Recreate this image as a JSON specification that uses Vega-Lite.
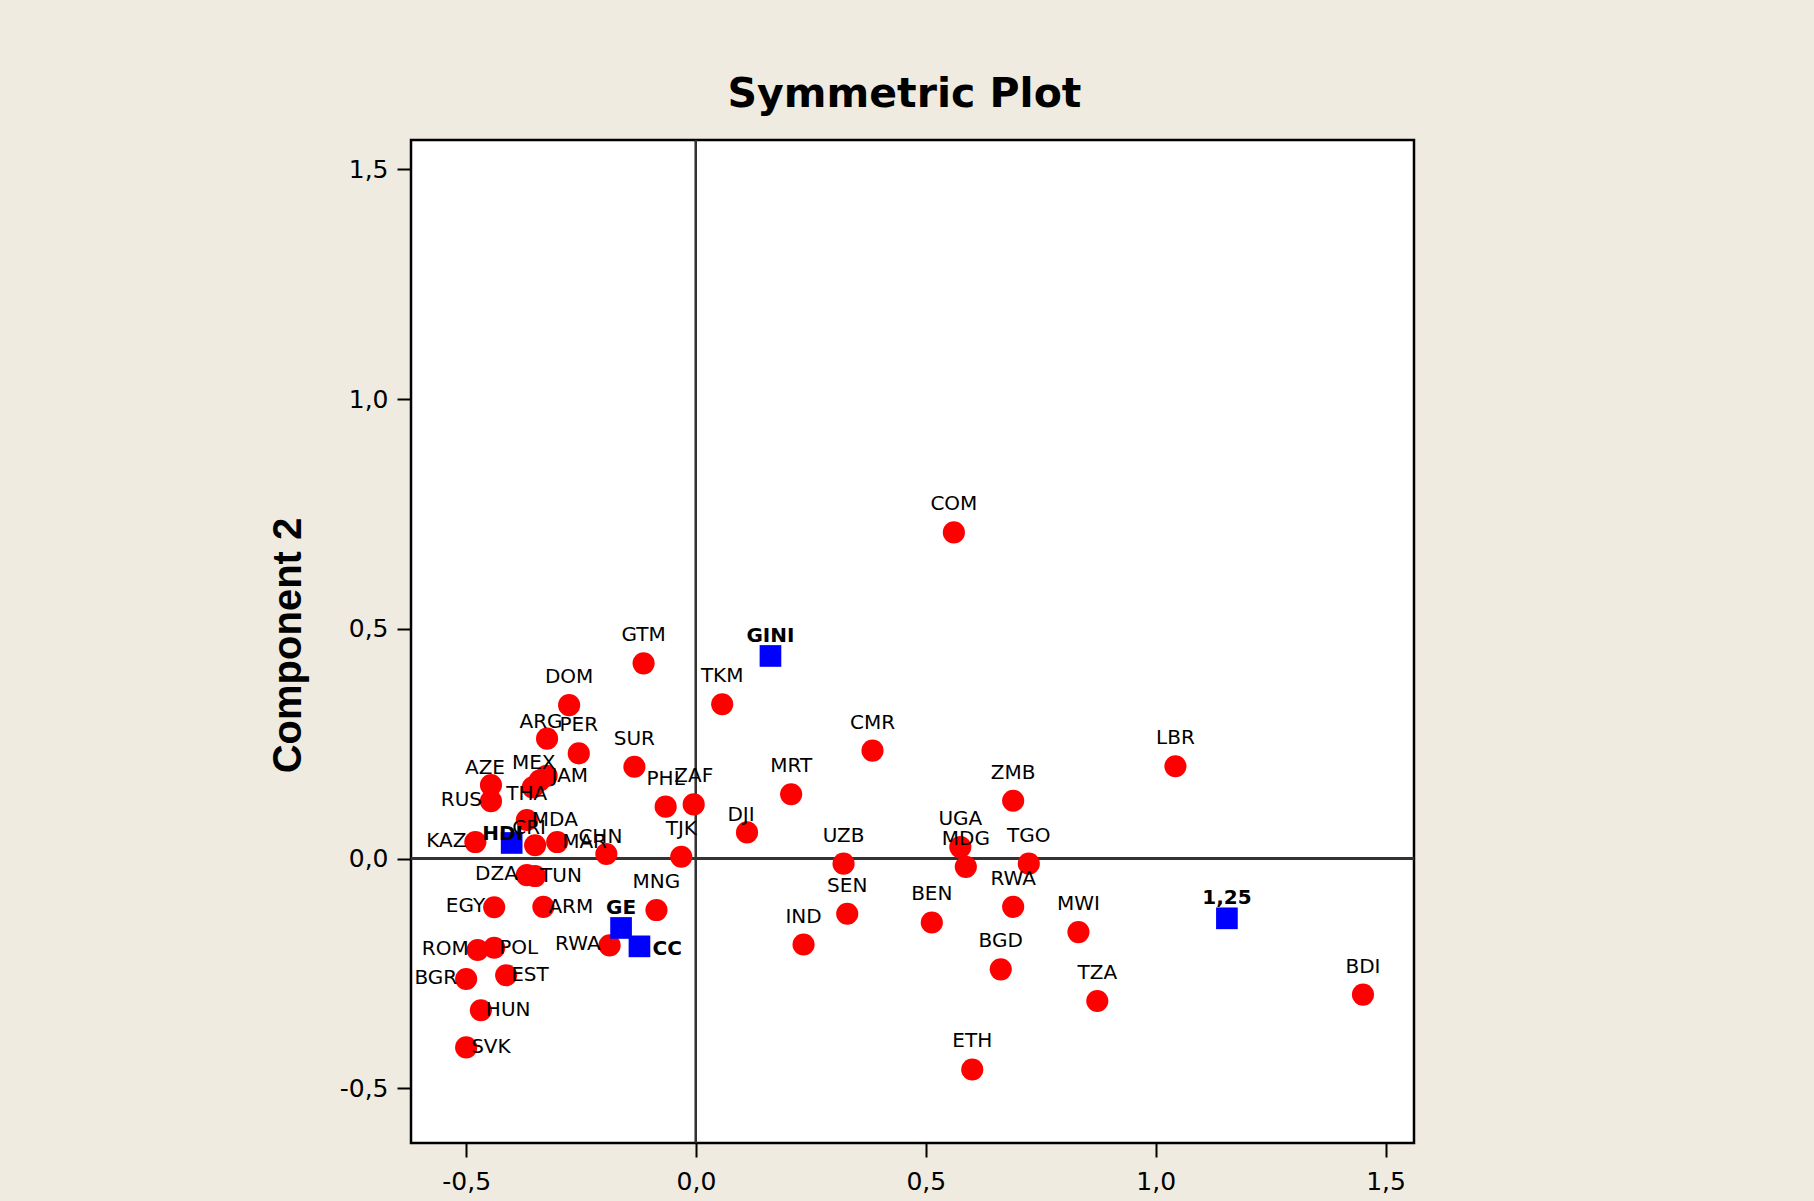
{
  "$schema": "https://vega.github.io/schema/vega-lite/v6.json",
  "autosize": "none",
  "padding": {"left": 411, "top": 140, "right": 400, "bottom": 58},
  "width": 1003,
  "height": 1003,
  "background": "#EFEBE0",
  "title": {
    "text": "Symmetric Plot",
    "font": "DejaVu Sans",
    "fontSize": 41,
    "fontWeight": "bold",
    "color": "black",
    "anchor": "middle",
    "frame": "group",
    "baseline": "alphabetic",
    "offset": 35,
    "dx": -8,
    "dy": 44
  },
  "datasets": {
    "pts": [
      {"name": "COM", "type": "country", "x": 0.561, "y": 0.710, "side": "top"},
      {"name": "GTM", "type": "country", "x": -0.114, "y": 0.425, "side": "top"},
      {"name": "TKM", "type": "country", "x": 0.057, "y": 0.336, "side": "top"},
      {"name": "DOM", "type": "country", "x": -0.276, "y": 0.334, "side": "top"},
      {"name": "ARG", "type": "country", "x": -0.324, "y": 0.261, "side": "nearTop"},
      {"name": "PER", "type": "country", "x": -0.255, "y": 0.229, "side": "top"},
      {"name": "SUR", "type": "country", "x": -0.134, "y": 0.200, "side": "top"},
      {"name": "CMR", "type": "country", "x": 0.384, "y": 0.235, "side": "top"},
      {"name": "LBR", "type": "country", "x": 1.043, "y": 0.201, "side": "top"},
      {"name": "AZE", "type": "country", "x": -0.446, "y": 0.160, "side": "nearTop"},
      {"name": "RUS", "type": "country", "x": -0.446, "y": 0.125, "side": "left"},
      {"name": "MEX", "type": "country", "x": -0.340, "y": 0.170, "side": "nearTop"},
      {"name": "JAM", "type": "country", "x": -0.325, "y": 0.180, "side": "right"},
      {"name": "THA", "type": "country", "x": -0.355, "y": 0.155, "side": "bottom"},
      {"name": "MDA", "type": "country", "x": -0.368, "y": 0.084, "side": "right"},
      {"name": "KAZ", "type": "country", "x": -0.480, "y": 0.036, "side": "left"},
      {"name": "CRI", "type": "country", "x": -0.350, "y": 0.029, "side": "nearTop"},
      {"name": "MAR", "type": "country", "x": -0.302, "y": 0.036, "side": "right"},
      {"name": "CHN", "type": "country", "x": -0.195, "y": 0.010, "side": "nearTop"},
      {"name": "TJK", "type": "country", "x": -0.032, "y": 0.004, "side": "top"},
      {"name": "PHL", "type": "country", "x": -0.066, "y": 0.113, "side": "top"},
      {"name": "ZAF", "type": "country", "x": -0.005, "y": 0.118, "side": "top"},
      {"name": "DJI", "type": "country", "x": 0.111, "y": 0.057, "side": "nearTop"},
      {"name": "MRT", "type": "country", "x": 0.207, "y": 0.140, "side": "top"},
      {"name": "UZB", "type": "country", "x": 0.321, "y": -0.011, "side": "top"},
      {"name": "SEN", "type": "country", "x": 0.329, "y": -0.120, "side": "top"},
      {"name": "IND", "type": "country", "x": 0.234, "y": -0.187, "side": "top"},
      {"name": "DZA", "type": "country", "x": -0.368, "y": -0.036, "side": "left"},
      {"name": "TUN", "type": "country", "x": -0.350, "y": -0.038, "side": "right"},
      {"name": "EGY", "type": "country", "x": -0.439, "y": -0.106, "side": "left"},
      {"name": "ARM", "type": "country", "x": -0.332, "y": -0.105, "side": "right"},
      {"name": "MNG", "type": "country", "x": -0.086, "y": -0.112, "side": "top"},
      {"name": "RWA", "type": "country", "x": -0.188, "y": -0.189, "side": "left"},
      {"name": "ROM", "type": "country", "x": -0.475, "y": -0.199, "side": "left"},
      {"name": "POL", "type": "country", "x": -0.439, "y": -0.194, "side": "right"},
      {"name": "BGR", "type": "country", "x": -0.500, "y": -0.262, "side": "left"},
      {"name": "EST", "type": "country", "x": -0.413, "y": -0.254, "side": "right"},
      {"name": "HUN", "type": "country", "x": -0.468, "y": -0.330, "side": "right"},
      {"name": "SVK", "type": "country", "x": -0.500, "y": -0.411, "side": "right"},
      {"name": "UGA", "type": "country", "x": 0.575, "y": 0.025, "side": "top"},
      {"name": "MDG", "type": "country", "x": 0.587, "y": -0.018, "side": "top"},
      {"name": "TGO", "type": "country", "x": 0.724, "y": -0.011, "side": "top"},
      {"name": "ZMB", "type": "country", "x": 0.690, "y": 0.126, "side": "top"},
      {"name": "RWA", "type": "country", "x": 0.690, "y": -0.105, "side": "top"},
      {"name": "BEN", "type": "country", "x": 0.513, "y": -0.139, "side": "top"},
      {"name": "MWI", "type": "country", "x": 0.832, "y": -0.160, "side": "top"},
      {"name": "BGD", "type": "country", "x": 0.663, "y": -0.241, "side": "top"},
      {"name": "TZA", "type": "country", "x": 0.873, "y": -0.310, "side": "top"},
      {"name": "ETH", "type": "country", "x": 0.601, "y": -0.459, "side": "top"},
      {"name": "BDI", "type": "country", "x": 1.451, "y": -0.296, "side": "top"},
      {"name": "GINI", "type": "variable", "x": 0.162, "y": 0.441, "side": "top"},
      {"name": "HDI", "type": "variable", "x": -0.401, "y": 0.034, "side": "nearTop"},
      {"name": "GE", "type": "variable", "x": -0.163, "y": -0.151, "side": "top"},
      {"name": "CC", "type": "variable", "x": -0.123, "y": -0.191, "side": "right"},
      {"name": "1,25", "type": "variable", "x": 1.155, "y": -0.130, "side": "top"}
    ]
  },
  "data": {"name": "pts"},
  "encoding": {
    "x": {
      "field": "x", "type": "quantitative",
      "scale": {"domain": [-0.62, 1.562], "nice": false, "zero": false},
      "axis": {
        "title": null,
        "values": [-0.5, 0, 0.5, 1, 1.5],
        "labelExpr": "(datum.value < 0 ? '-' : '') + replace(format(abs(datum.value), '.1f'), '.', ',')",
        "labelPadding": 12
      }
    },
    "y": {
      "field": "y", "type": "quantitative",
      "scale": {"domain": [-0.619, 1.564], "nice": false, "zero": false},
      "axis": {
        "title": "Component 2",
        "values": [-0.5, 0, 0.5, 1, 1.5],
        "labelExpr": "(datum.value < 0 ? '-' : '') + replace(format(abs(datum.value), '.1f'), '.', ',')",
        "labelPadding": 9,
        "titleFont": "Liberation Sans",
        "titleFontSize": 40,
        "titleFontWeight": "bold",
        "titleColor": "black",
        "titleAngle": -90,
        "titleBaseline": "alphabetic",
        "titleAlign": "center",
        "titleX": -111,
        "titleY": 505
      }
    }
  },
  "layer": [
    {
      "mark": {"type": "rule", "color": "#333333", "strokeWidth": 2},
      "encoding": {"x": {"datum": 0}, "y": null}
    },
    {
      "mark": {"type": "rule", "color": "#333333", "strokeWidth": 2},
      "encoding": {"y": {"datum": 0}, "x": null}
    },
    {
      "transform": [{"filter": "datum.type === 'country'"}],
      "mark": {"type": "circle", "size": 490, "color": "#FF0000", "opacity": 1}
    },
    {
      "transform": [{"filter": "datum.type === 'variable'"}],
      "mark": {"type": "square", "size": 470, "color": "#0000FF", "opacity": 1}
    },
    {
      "transform": [{"filter": "datum.type === 'country' && datum.side === 'top'"}],
      "mark": {"type": "text", "font": "DejaVu Sans", "fontSize": 20, "color": "black", "align": "center", "baseline": "middle", "dy": -28},
      "encoding": {"text": {"field": "name"}}
    },
    {
      "transform": [{"filter": "datum.type === 'country' && datum.side === 'nearTop'"}],
      "mark": {"type": "text", "font": "DejaVu Sans", "fontSize": 20, "color": "black", "align": "center", "baseline": "middle", "dx": -6, "dy": -17},
      "encoding": {"text": {"field": "name"}}
    },
    {
      "transform": [{"filter": "datum.type === 'country' && datum.side === 'bottom'"}],
      "mark": {"type": "text", "font": "DejaVu Sans", "fontSize": 20, "color": "black", "align": "center", "baseline": "middle", "dx": -6, "dy": 7},
      "encoding": {"text": {"field": "name"}}
    },
    {
      "transform": [{"filter": "datum.type === 'country' && datum.side === 'left'"}],
      "mark": {"type": "text", "font": "DejaVu Sans", "fontSize": 20, "color": "black", "align": "right", "baseline": "middle", "dx": -9, "dy": -1},
      "encoding": {"text": {"field": "name"}}
    },
    {
      "transform": [{"filter": "datum.type === 'country' && datum.side === 'right'"}],
      "mark": {"type": "text", "font": "DejaVu Sans", "fontSize": 20, "color": "black", "align": "left", "baseline": "middle", "dx": 5, "dy": 0},
      "encoding": {"text": {"field": "name"}}
    },
    {
      "transform": [{"filter": "datum.type === 'variable' && datum.side === 'top'"}],
      "mark": {"type": "text", "font": "DejaVu Sans", "fontSize": 20, "fontWeight": "bold", "color": "black", "align": "center", "baseline": "middle", "dy": -20},
      "encoding": {"text": {"field": "name"}}
    },
    {
      "transform": [{"filter": "datum.type === 'variable' && datum.side === 'nearTop'"}],
      "mark": {"type": "text", "font": "DejaVu Sans", "fontSize": 20, "fontWeight": "bold", "color": "black", "align": "center", "baseline": "middle", "dx": -9, "dy": -9},
      "encoding": {"text": {"field": "name"}}
    },
    {
      "transform": [{"filter": "datum.type === 'variable' && datum.side === 'right'"}],
      "mark": {"type": "text", "font": "DejaVu Sans", "fontSize": 20, "fontWeight": "bold", "color": "black", "align": "left", "baseline": "middle", "dx": 13, "dy": 3},
      "encoding": {"text": {"field": "name"}}
    }
  ],
  "config": {
    "view": {"fill": "white", "stroke": "black", "strokeWidth": 2.5},
    "axis": {
      "grid": false,
      "domain": false,
      "ticks": true,
      "tickSize": 14,
      "tickWidth": 2,
      "tickColor": "black",
      "labelFont": "DejaVu Sans",
      "labelFontSize": 25,
      "labelColor": "black",
      "labelFlush": false,
      "labelOverlap": false
    }
  }
}
